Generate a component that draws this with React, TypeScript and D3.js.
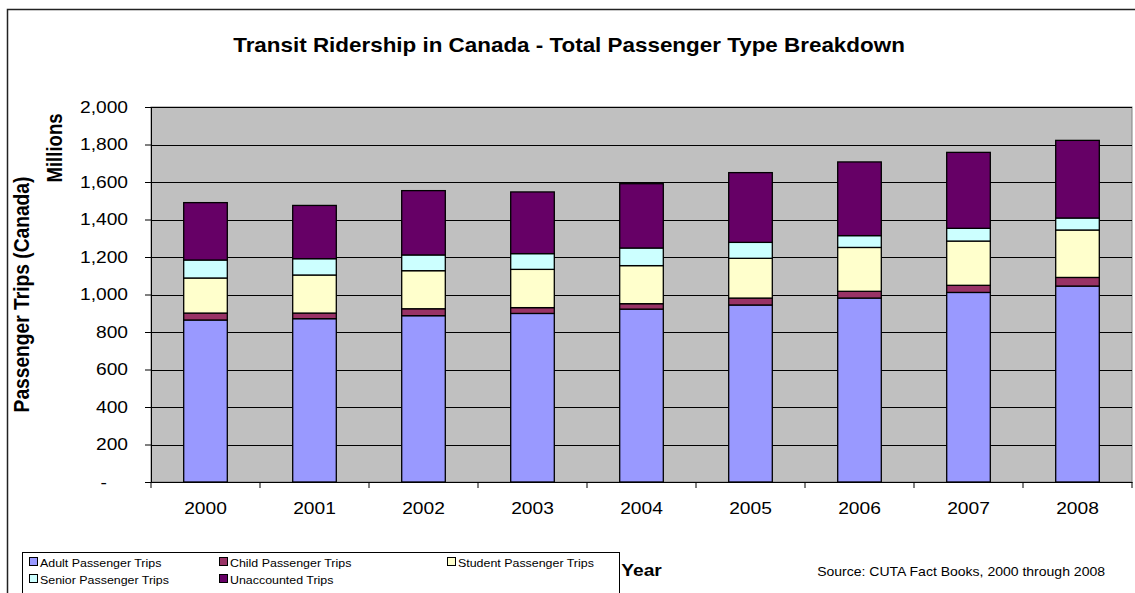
import React, { useEffect, useRef } from "react";
import * as d3 from "d3";

const years = ["2000", "2001", "2002", "2003", "2004", "2005", "2006", "2007", "2008"];
const adultTrips = [864, 871, 887, 899, 922, 944, 981, 1011, 1045];
const childTrips = [37, 30, 37, 31, 29, 37, 36, 38, 46];
const studentTrips = [187, 203, 203, 204, 203, 212, 234, 236, 253];
const seniorTrips = [96, 87, 84, 84, 94, 85, 63, 68, 64];
const unaccountedTrips = [306, 284, 343, 329, 343, 372, 393, 405, 414];
const seriesNames = [
  "Adult Passenger Trips",
  "Child Passenger Trips",
  "Student Passenger Trips",
  "Senior Passenger Trips",
  "Unaccounted Trips",
];
const seriesColors = ["#9999FF", "#993366", "#FFFFCC", "#CCFFFF", "#660066"];
const yTicks = [0, 200, 400, 600, 800, 1000, 1200, 1400, 1600, 1800, 2000];

const W = 1135;
const H = 593;
const plot = { left: 151, right: 1132, top: 107, bottom: 482 };
const font = "Arial, 'Liberation Sans', sans-serif";
// the original chart is stretched sideways a bit, text included
const S = 1.15;

const App = () => {
  const ref = useRef<SVGSVGElement>(null);

  useEffect(() => {
    const svg = d3.select(ref.current);
    svg.selectAll("*").remove();

    const rows = years.map((y, i) => ({
      year: y,
      s0: adultTrips[i],
      s1: childTrips[i],
      s2: studentTrips[i],
      s3: seniorTrips[i],
      s4: unaccountedTrips[i],
    }));
    const keys = ["s0", "s1", "s2", "s3", "s4"];
    const stacked = d3.stack<any>().keys(keys)(rows);

    const x = d3
      .scaleBand()
      .domain(years)
      .range([plot.left, plot.right])
      .paddingInner(0.6)
      .paddingOuter(0.3);
    const xOuter = d3.scaleBand().domain(years).range([plot.left, plot.right]);
    const y = d3.scaleLinear().domain([0, 2000]).range([plot.bottom, plot.top]);

    const label = (
      tx: number,
      ty: number,
      txt: string,
      size: number,
      opts: { bold?: boolean; anchor?: string; rotate?: boolean } = {}
    ) =>
      svg
        .append("text")
        .attr(
          "transform",
          `translate(${tx},${ty}) scale(${S},1)` + (opts.rotate ? " rotate(-90)" : "")
        )
        .attr("text-anchor", opts.anchor || "start")
        .attr("font-family", font)
        .attr("font-weight", opts.bold ? "bold" : "normal")
        .attr("font-size", size)
        .attr("fill", "#000")
        .text(txt);

    // chart frame
    svg
      .append("rect")
      .attr("x", 7.5)
      .attr("y", 9.5)
      .attr("width", 1140)
      .attr("height", 620)
      .attr("fill", "#fff")
      .attr("stroke", "#222")
      .attr("stroke-width", 1.5);

    // plot area
    svg
      .append("rect")
      .attr("x", plot.left)
      .attr("y", plot.top)
      .attr("width", plot.right - plot.left)
      .attr("height", plot.bottom - plot.top)
      .attr("fill", "#C0C0C0")
      .attr("stroke", "#808080");

    // gridlines
    svg
      .append("g")
      .selectAll("line")
      .data(yTicks.slice(1))
      .enter()
      .append("line")
      .attr("x1", plot.left)
      .attr("x2", plot.right)
      .attr("y1", (d) => Math.round(y(d)) + 0.5)
      .attr("y2", (d) => Math.round(y(d)) + 0.5)
      .attr("stroke", "#000")
      .attr("stroke-width", 1);

    // bars
    svg
      .append("g")
      .selectAll("g")
      .data(stacked)
      .enter()
      .append("g")
      .attr("fill", (_d, i) => seriesColors[i])
      .selectAll("rect")
      .data((d) => d)
      .enter()
      .append("rect")
      .attr("x", (d: any) => x(d.data.year)!)
      .attr("y", (d) => y(d[1]))
      .attr("width", x.bandwidth())
      .attr("height", (d) => y(d[0]) - y(d[1]))
      .attr("stroke", "#000")
      .attr("stroke-width", 1.3);

    // y axis
    const yAxis = d3
      .axisLeft(y)
      .tickValues(yTicks)
      .tickSize(6)
      .tickFormat((d) => (+d === 0 ? "-" : d3.format(",")(d as number)));
    const gy = svg
      .append("g")
      .attr("transform", `translate(${plot.left},0)`)
      .call(yAxis);
    gy.select(".domain").attr("stroke", "#000");
    gy.selectAll(".tick line").attr("stroke", "#000");
    gy.selectAll<SVGTextElement, number>("text")
      .attr("transform", `scale(${S},1)`)
      .attr("font-family", font)
      .attr("font-size", 16.7)
      .attr("fill", "#000")
      .each(function () {
        // accounting format puts the zero dash further left
        const isDash = this.textContent === "-";
        d3.select(this).attr("x", (isDash ? -44 : -23) / S);
      });

    // x axis
    const gx = svg
      .append("g")
      .attr("transform", `translate(0,${plot.bottom})`)
      .call(d3.axisBottom(xOuter).tickSize(0).tickPadding(20));
    gx.select(".domain").attr("stroke", "#000");
    gx.selectAll("text")
      .attr("transform", `scale(${S},1)`)
      .attr("font-family", font)
      .attr("font-size", 16.7)
      .attr("fill", "#000");
    gx.selectAll(".boundary")
      .data(d3.range(years.length + 1))
      .enter()
      .append("line")
      .attr("x1", (i) => plot.left + i * xOuter.step())
      .attr("x2", (i) => plot.left + i * xOuter.step())
      .attr("y1", 0)
      .attr("y2", 6)
      .attr("stroke", "#000");

    // titles
    label(569, 52, "Transit Ridership in Canada - Total Passenger Type Breakdown", 19.5, {
      bold: true,
      anchor: "middle",
    });
    label(28.5, (plot.top + plot.bottom) / 2, "Passenger Trips (Canada)", 19.2, {
      bold: true,
      anchor: "middle",
      rotate: true,
    });
    label(61.5, 148, "Millions", 18.6, { bold: true, anchor: "middle", rotate: true });
    label((plot.left + plot.right) / 2, 576, "Year", 16.7, { bold: true, anchor: "middle" });
    label(1105, 576, "Source: CUTA Fact Books, 2000 through 2008", 12.2, { anchor: "end" });

    // legend
    const legend = svg.append("g");
    legend
      .append("rect")
      .attr("x", 22.5)
      .attr("y", 552.5)
      .attr("width", 597)
      .attr("height", 60)
      .attr("fill", "#fff")
      .attr("stroke", "#000");
    const colX = [29, 219, 447];
    const rowY = [562, 579];
    const items = legend
      .selectAll(".item")
      .data(seriesNames)
      .enter()
      .append("g")
      .attr(
        "transform",
        (_d, i) => `translate(${colX[i % 3]},${rowY[Math.floor(i / 3)]})`
      );
    items
      .append("rect")
      .attr("x", 0.5)
      .attr("y", -4.5)
      .attr("width", 8)
      .attr("height", 8)
      .attr("fill", (_d, i) => seriesColors[i])
      .attr("stroke", "#000");
    items
      .append("text")
      .attr("transform", `translate(11,4.5) scale(${S},1)`)
      .attr("font-family", font)
      .attr("font-size", 10.8)
      .text((d) => d);
  }, []);

  return (
    <svg
      ref={ref}
      width={W}
      height={H}
      style={{ position: "absolute", left: 0, top: 0, background: "#fff" }}
    ></svg>
  );
};

export default App;
